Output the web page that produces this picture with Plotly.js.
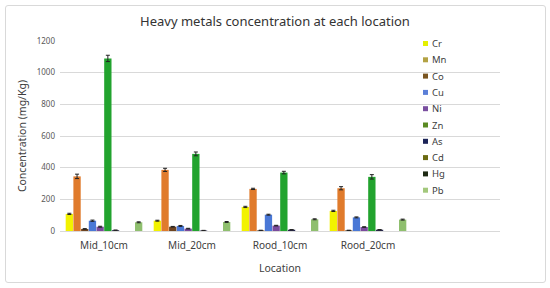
<!DOCTYPE html>
<html>
<head>
<meta charset="utf-8">
<script src="https://cdn.plot.ly/plotly-3.0.1.min.js"></script>
<style>
html,body{margin:0;padding:0;background:#fff;}
#frame{position:absolute;left:5px;top:5px;width:539px;height:276px;border:1px solid #d9d9d9;border-radius:3px;}
#chart{position:absolute;left:0;top:0;width:550px;height:288px;}
</style>
</head>
<body>
<div id="frame"></div>
<div id="chart"></div>
<script>
const locations = ["Mid_10cm", "Mid_20cm", "Rood_10cm", "Rood_20cm"];
const metals = ["Cr", "Mn", "Co", "Cu", "Ni", "Zn", "As", "Cd", "Hg", "Pb"];
const Cr = [108, 65, 152, 127];
const Mn = [345, 386, 266, 270];
const Co = [13, 27, 4, 4];
const Cu = [65, 32, 103, 86];
const Ni = [27, 15, 34, 25];
const Zn = [1090, 487, 369, 342];
const As = [5, 3, 8, 8];
const Cd = [0, 0, 0, 0];
const Hg = [0, 0, 0, 0];
const Pb = [55, 57, 74, 72];
const errCr = [4, 3, 4, 4];
const errMn = [14, 10, 4, 10];
const errCo = [2, 2, 1, 1];
const errCu = [4, 3, 3, 3];
const errNi = [3, 2, 2, 2];
const errZn = [20, 12, 8, 14];
const errAs = [1, 1, 1, 1];
const errCd = [0, 0, 0, 0];
const errHg = [0, 0, 0, 0];
const errPb = [3, 3, 3, 3];
const barColors = ["#f2f200", "#e07b2c", "#6e4420", "#4a78d6", "#7a4a9c", "#22a32e", "#2a2a52", "#6b6b10", "#203010", "#8fbf6e"];
const legendColors = ["#e4f000", "#b3a244", "#7a5520", "#5b7fd8", "#7a4fa0", "#5a8a22", "#1c2458", "#6b6b12", "#1e2a14", "#a3c87c"];

const values = [Cr, Mn, Co, Cu, Ni, Zn, As, Cd, Hg, Pb];
const errs = [errCr, errMn, errCo, errCu, errNi, errZn, errAs, errCd, errHg, errPb];

const traces = metals.map((m, i) => ({
  type: "bar",
  name: m,
  x: locations,
  y: values[i],
  marker: {color: barColors[i]},
  error_y: {type: "data", array: errs[i], visible: errs[i].some(v => v > 0), color: "#222", thickness: 1, width: 2},
  showlegend: false
}));

const annotations = [];
const shapes = [];
const legX = 423, legY0 = 43.5, legStep = 16.3;
metals.forEach((m, i) => {
  const y = legY0 + i * legStep;
  shapes.push({type: "rect", xref: "paper", yref: "paper",
    x0: (legX - 60) / 440, x1: (legX + 5 - 60) / 440,
    y0: (231 - (y + 2.5)) / 190, y1: (231 - (y - 2.5)) / 190,
    fillcolor: legendColors[i], line: {width: 0}});
  annotations.push({xref: "paper", yref: "paper", x: (legX + 7 - 60) / 440, y: (231 - y) / 190,
    xanchor: "left", yanchor: "middle", showarrow: false, text: m,
    font: {size: 9.5, color: "#404040"}});
});

const layout = {
  width: 550, height: 288,
  margin: {l: 60, r: 50, t: 41, b: 57},
  paper_bgcolor: "rgba(0,0,0,0)",
  plot_bgcolor: "rgba(0,0,0,0)",
  font: {family: "Noto Sans, Open Sans, sans-serif", color: "#404040"},
  title: {text: "Heavy metals concentration at each location", x: 0.5, xref: "container", y: 0.925, yanchor: "middle",
    font: {size: 13, color: "#333"}},
  barmode: "group",
  bargap: 0.125,
  bargroupgap: 0.05,
  xaxis: {type: "category", range: [-0.5, 4.5], showgrid: false, showline: true, linecolor: "#d9d9d9",
    tickfont: {size: 10, color: "#404040"}, ticks: "", ticklabelstandoff: 5,
    title: {text: "Location", font: {size: 10.5, color: "#404040"}, standoff: 13}},
  yaxis: {range: [0, 1200], dtick: 200, gridcolor: "#d9d9d9", zeroline: false, showline: false,
    tickfont: {size: 8, color: "#595959"}, ticklabelstandoff: 4,
    title: {text: "Concentration (mg/Kg)", font: {size: 10.5, color: "#404040"}, standoff: 8}},
  shapes: shapes,
  annotations: annotations
};
Plotly.newPlot("chart", traces, layout, {displayModeBar: false, staticPlot: true});
</script>
</body>
</html>
